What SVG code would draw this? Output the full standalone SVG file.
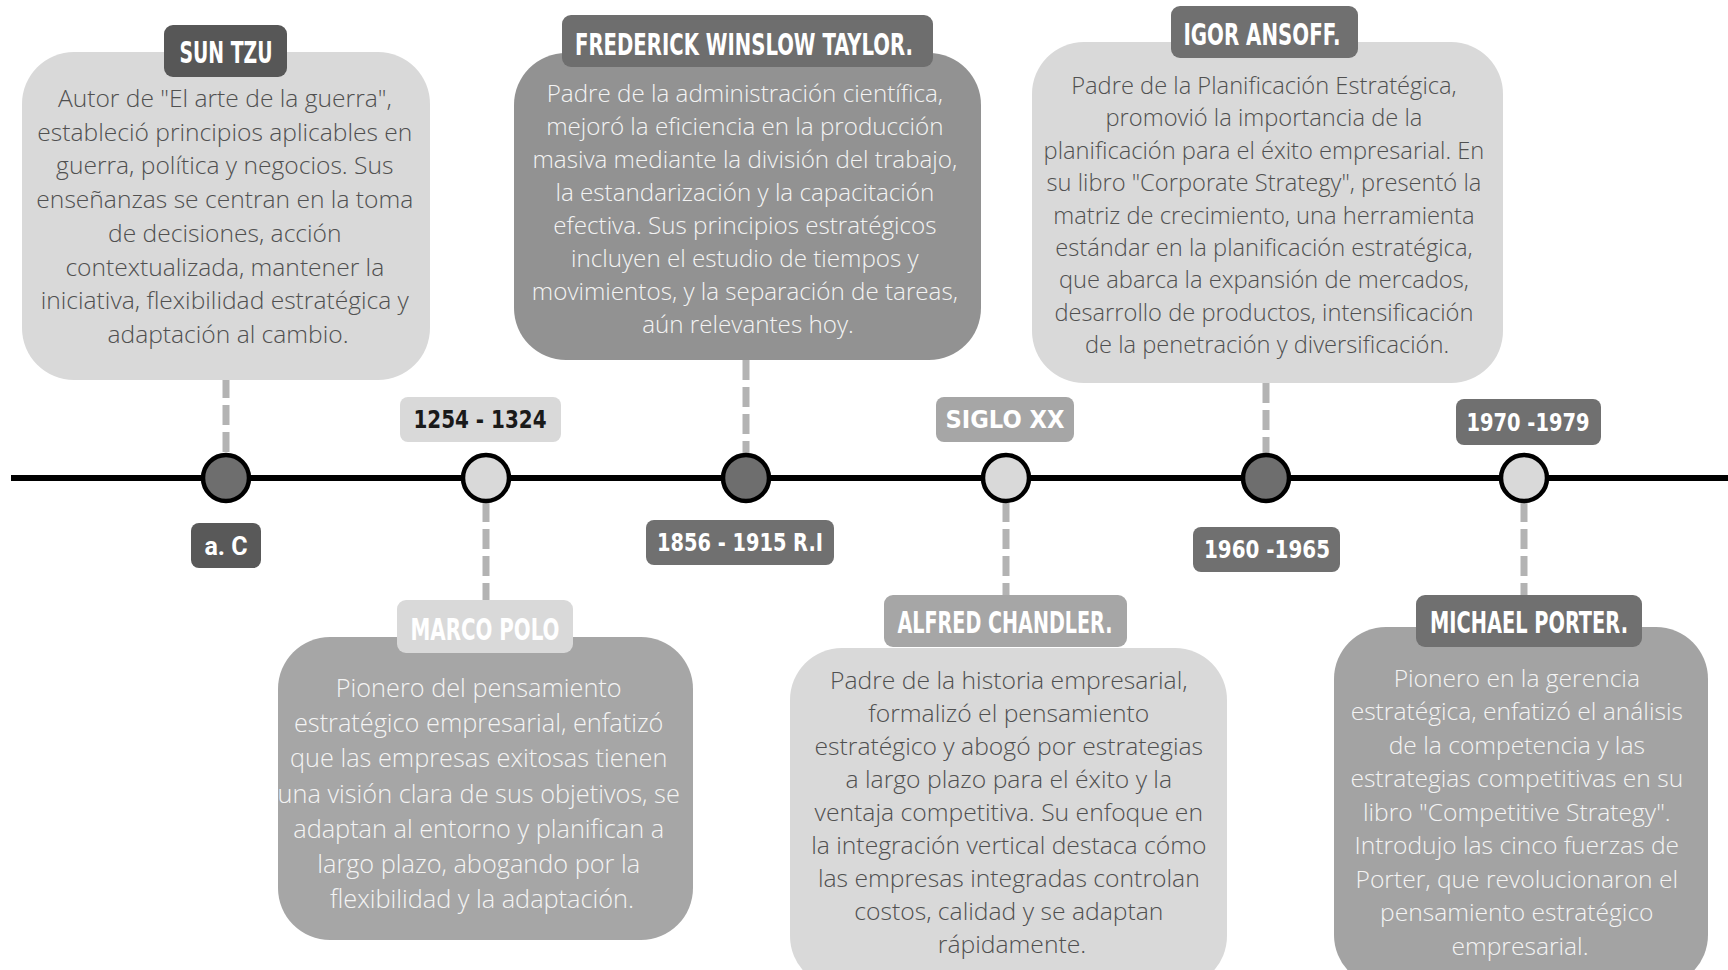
<svg xmlns="http://www.w3.org/2000/svg" width="1728" height="970" viewBox="0 0 1728 970">
<style>
.body{font-family:"Open Sans","Noto Sans",sans-serif;font-weight:300;text-anchor:middle}
.dk{fill:#505050}
.lt{fill:#f4f4f4}
.tag{font-family:"Liberation Sans Narrow","DejaVu Sans Condensed","Liberation Sans",sans-serif;font-weight:bold;font-size:30px;fill:#ffffff;text-anchor:middle}
.date{font-family:"Liberation Sans Narrow","DejaVu Sans Condensed","Liberation Sans",sans-serif;font-weight:bold;font-size:25px;text-anchor:middle}
.conn{stroke:#b3b3b3;stroke-width:7;stroke-dasharray:20 7;fill:none}
</style>
<rect width="1728" height="970" fill="#ffffff"/>
<g id="timeline">
<line x1="11" y1="478" x2="1728" y2="478" stroke="#000000" stroke-width="6"/>
</g>
<g id="connectors">
<line class="conn" x1="226" y1="378" x2="226" y2="454"/>
<line class="conn" x1="486" y1="502" x2="486" y2="600"/>
<line class="conn" x1="746" y1="360" x2="746" y2="454"/>
<line class="conn" x1="1006" y1="502" x2="1006" y2="596"/>
<line class="conn" x1="1266" y1="383" x2="1266" y2="454"/>
<line class="conn" x1="1524" y1="502" x2="1524" y2="596"/>
</g>
<g id="markers">
<circle cx="226" cy="478" r="23" fill="#6e6e6e" stroke="#000" stroke-width="4.5"/>
<circle cx="486" cy="478" r="23" fill="#d9d9d9" stroke="#000" stroke-width="4.5"/>
<circle cx="746" cy="478" r="23" fill="#6e6e6e" stroke="#000" stroke-width="4.5"/>
<circle cx="1006" cy="478" r="23" fill="#d9d9d9" stroke="#000" stroke-width="4.5"/>
<circle cx="1266" cy="478" r="23" fill="#6e6e6e" stroke="#000" stroke-width="4.5"/>
<circle cx="1524" cy="478" r="23" fill="#d9d9d9" stroke="#000" stroke-width="4.5"/>
</g>
<g id="date-ac">
<rect x="191" y="523" width="70" height="45" rx="8" fill="#595959"/>
<text class="date" x="226" y="555" fill="#ffffff" style="font-family:Roboto,sans-serif;font-size:25px">a. C</text>
</g>
<g id="date-1254">
<rect x="400" y="397" width="161" height="45" rx="8" fill="#d9d9d9"/>
<text class="date" x="480" y="428" fill="#1a1a1a" textLength="133" lengthAdjust="spacingAndGlyphs">1254 - 1324</text>
</g>
<g id="date-1856">
<rect x="646" y="520" width="188" height="45" rx="8" fill="#707070"/>
<text class="date" x="740" y="551" fill="#ffffff" textLength="166" lengthAdjust="spacingAndGlyphs">1856 - 1915 R.I</text>
</g>
<g id="date-siglo">
<rect x="936" y="397" width="138" height="45" rx="8" fill="#a6a6a6"/>
<text class="date" x="1005" y="428" fill="#ffffff" textLength="119" lengthAdjust="spacingAndGlyphs">SIGLO XX</text>
</g>
<g id="date-1960">
<rect x="1193" y="527" width="147" height="45" rx="8" fill="#707070"/>
<text class="date" x="1267" y="558" fill="#ffffff" textLength="126" lengthAdjust="spacingAndGlyphs">1960 -1965</text>
</g>
<g id="date-1970">
<rect x="1456" y="399" width="145" height="46" rx="8" fill="#707070"/>
<text class="date" x="1528" y="431" fill="#ffffff" textLength="123" lengthAdjust="spacingAndGlyphs">1970 -1979</text>
</g>
<g id="sun-tzu">
<rect x="22" y="52" width="408" height="328" rx="52" fill="#d9d9d9"/>
<rect x="164" y="25" width="123" height="52" rx="9" fill="#575757"/>
<text class="tag" x="226" y="63" textLength="93" lengthAdjust="spacingAndGlyphs">SUN TZU</text>
<text class="body dk" style="font-size:24.6px">
<tspan x="228" y="107">Autor de "El arte de la guerra",</tspan>
<tspan x="228" y="141">estableció principios aplicables en</tspan>
<tspan x="228" y="174">guerra, política y negocios. Sus</tspan>
<tspan x="228" y="208">enseñanzas se centran en la toma</tspan>
<tspan x="228" y="242">de decisiones, acción</tspan>
<tspan x="228" y="276">contextualizada, mantener la</tspan>
<tspan x="228" y="309">iniciativa, flexibilidad estratégica y</tspan>
<tspan x="228" y="343">adaptación al cambio.</tspan>
</text>
</g>
<g id="taylor">
<rect x="514" y="53" width="467" height="307" rx="52" fill="#929292"/>
<rect x="562" y="15" width="371" height="52" rx="9" fill="#6e6e6e"/>
<text class="tag" x="744" y="55" textLength="338" lengthAdjust="spacingAndGlyphs">FREDERICK WINSLOW TAYLOR.</text>
<text class="body lt" style="font-size:24.2px">
<tspan x="748" y="102">Padre de la administración científica,</tspan>
<tspan x="748" y="135">mejoró la eficiencia en la producción</tspan>
<tspan x="748" y="168">masiva mediante la división del trabajo,</tspan>
<tspan x="748" y="201">la estandarización y la capacitación</tspan>
<tspan x="748" y="234">efectiva. Sus principios estratégicos</tspan>
<tspan x="748" y="267">incluyen el estudio de tiempos y</tspan>
<tspan x="748" y="300">movimientos, y la separación de tareas,</tspan>
<tspan x="748" y="333">aún relevantes hoy.</tspan>
</text>
</g>
<g id="ansoff">
<rect x="1032" y="42" width="471" height="341" rx="52" fill="#d9d9d9"/>
<rect x="1171" y="6" width="187" height="52" rx="9" fill="#707070"/>
<text class="tag" x="1262" y="45" textLength="157" lengthAdjust="spacingAndGlyphs">IGOR ANSOFF.</text>
<text class="body dk" style="font-size:23.7px">
<tspan x="1267" y="94">Padre de la Planificación Estratégica,</tspan>
<tspan x="1267" y="126">promovió la importancia de la</tspan>
<tspan x="1267" y="159">planificación para el éxito empresarial. En</tspan>
<tspan x="1267" y="191">su libro "Corporate Strategy", presentó la</tspan>
<tspan x="1267" y="224">matriz de crecimiento, una herramienta</tspan>
<tspan x="1267" y="256">estándar en la planificación estratégica,</tspan>
<tspan x="1267" y="288">que abarca la expansión de mercados,</tspan>
<tspan x="1267" y="321">desarrollo de productos, intensificación</tspan>
<tspan x="1267" y="353">de la penetración y diversificación.</tspan>
</text>
</g>
<g id="marco-polo">
<rect x="278" y="637" width="415" height="303" rx="52" fill="#a6a6a6"/>
<rect x="397" y="600" width="176" height="53" rx="9" fill="#d9d9d9"/>
<text class="tag" x="485" y="640" textLength="149" lengthAdjust="spacingAndGlyphs">MARCO POLO</text>
<text class="body lt" style="font-size:25.3px">
<tspan x="482" y="697">Pionero del pensamiento</tspan>
<tspan x="482" y="732">estratégico empresarial, enfatizó</tspan>
<tspan x="482" y="767">que las empresas exitosas tienen</tspan>
<tspan x="482" y="803">una visión clara de sus objetivos, se</tspan>
<tspan x="482" y="838">adaptan al entorno y planifican a</tspan>
<tspan x="482" y="873">largo plazo, abogando por la</tspan>
<tspan x="482" y="908">flexibilidad y la adaptación.</tspan>
</text>
</g>
<g id="chandler">
<rect x="790" y="648" width="437" height="340" rx="52" fill="#d9d9d9"/>
<rect x="884" y="595" width="243" height="52" rx="9" fill="#a6a6a6"/>
<text class="tag" x="1005" y="633" textLength="215" lengthAdjust="spacingAndGlyphs">ALFRED CHANDLER.</text>
<text class="body dk" style="font-size:24.7px">
<tspan x="1012" y="689">Padre de la historia empresarial,</tspan>
<tspan x="1012" y="722">formalizó el pensamiento</tspan>
<tspan x="1012" y="755">estratégico y abogó por estrategias</tspan>
<tspan x="1012" y="788">a largo plazo para el éxito y la</tspan>
<tspan x="1012" y="821">ventaja competitiva. Su enfoque en</tspan>
<tspan x="1012" y="854">la integración vertical destaca cómo</tspan>
<tspan x="1012" y="887">las empresas integradas controlan</tspan>
<tspan x="1012" y="920">costos, calidad y se adaptan</tspan>
<tspan x="1012" y="953">rápidamente.</tspan>
</text>
</g>
<g id="porter">
<rect x="1334" y="627" width="374" height="360" rx="52" fill="#a3a3a3"/>
<rect x="1416" y="595" width="226" height="52" rx="9" fill="#707070"/>
<text class="tag" x="1529" y="633" textLength="198" lengthAdjust="spacingAndGlyphs">MICHAEL PORTER.</text>
<text class="body lt" style="font-size:24.6px">
<tspan x="1520" y="687">Pionero en la gerencia</tspan>
<tspan x="1520" y="720">estratégica, enfatizó el análisis</tspan>
<tspan x="1520" y="754">de la competencia y las</tspan>
<tspan x="1520" y="787">estrategias competitivas en su</tspan>
<tspan x="1520" y="821">libro "Competitive Strategy".</tspan>
<tspan x="1520" y="854">Introdujo las cinco fuerzas de</tspan>
<tspan x="1520" y="888">Porter, que revolucionaron el</tspan>
<tspan x="1520" y="921">pensamiento estratégico</tspan>
<tspan x="1520" y="955">empresarial.</tspan>
</text>
</g>
</svg>
